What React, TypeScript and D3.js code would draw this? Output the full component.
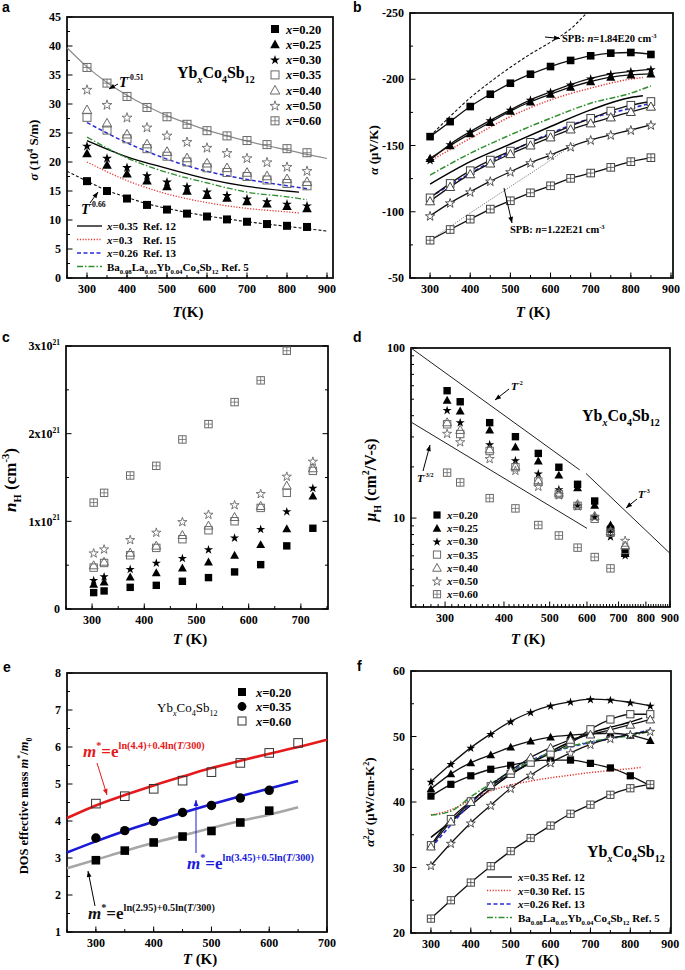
import React, { useEffect, useRef } from 'react';
import * as d3 from 'd3';

// ---------------- data ----------------
const X_LABELS = ['0.20', '0.25', '0.30', '0.35', '0.40', '0.50', '0.60'];
const MARKERS = ['sq', 'tri', 'star', 'osq', 'otri', 'ostar', 'xsq'];
const T50 = [300, 350, 400, 450, 500, 550, 600, 650, 700, 750, 800, 850];
const T_HALL = [303, 323, 373, 423, 473, 523, 573, 623, 673, 723];

// (a) electrical conductivity, 10^4 S/m
const SIG_020 = [16.7, 15.0, 13.7, 12.6, 11.8, 11.1, 10.6, 10.1, 9.7, 9.3, 9.0, 8.8];
const SIG_025 = [21.5, 19.5, 18.0, 16.8, 15.8, 15.0, 14.3, 13.8, 13.2, 12.8, 12.4, 12.0];
const SIG_030 = [22.8, 20.7, 19.1, 17.7, 16.6, 15.8, 14.9, 14.3, 13.7, 13.2, 12.8, 12.5];
const SIG_035 = [27.7, 25.5, 24.0, 22.3, 21.0, 20.0, 19.0, 18.2, 17.5, 16.9, 16.3, 15.9];
const SIG_040 = [29.0, 26.7, 24.8, 23.1, 21.8, 20.7, 19.8, 19.0, 18.2, 17.6, 17.1, 16.6];
const SIG_050 = [32.5, 29.9, 27.7, 26.0, 24.6, 23.5, 22.5, 21.6, 20.7, 20.0, 19.2, 18.5];
const SIG_060 = [36.3, 33.6, 31.3, 29.4, 27.8, 26.5, 25.4, 24.5, 23.7, 23.0, 22.3, 21.6];
const FIT_T = [250, 300, 350, 400, 450, 500, 550, 600, 650, 700, 750, 800, 850, 900];
const FIT_051 = [39.7, 36.4, 33.7, 31.5, 29.6, 28.0, 26.7, 25.5, 24.5, 23.6, 22.8, 22.1, 21.3, 20.6];
const FIT_066 = [18.4, 16.7, 15.1, 13.9, 12.8, 12.0, 11.3, 10.7, 10.2, 9.7, 9.3, 8.9, 8.5, 8.1];
const REF_T_SHORT = [300, 400, 500, 600, 700, 800, 830];
const REF_T_LONG = [300, 400, 500, 600, 700, 800, 850];
const SIG_REF12 = [23.7, 20.9, 18.9, 17.1, 15.8, 15.0, 14.8];
const SIG_REF15 = [20.0, 16.8, 14.5, 13.0, 12.0, 11.4, 11.2];
const SIG_REF13 = [26.8, 23.3, 20.5, 18.4, 17.0, 15.9, 15.4];
const SIG_REF5 = [24.3, 20.7, 18.2, 16.4, 14.8, 14.0, 13.5];

// (b) Seebeck coefficient, uV/K
const ALP_020 = [-156.7, -168, -179.4, -188.7, -197, -203.8, -209.6, -214.2, -217.7, -219.7, -220.2, -218.7];
const ALP_025 = [-140.3, -150, -159, -167.5, -176, -183, -188.7, -194, -198.3, -201.6, -203.3, -204];
const ALP_030 = [-139, -151, -160.5, -169, -177, -184.5, -190.5, -196, -200.6, -204, -206, -207.5];
const ALP_035 = [-110.5, -121.4, -131, -139, -145.8, -152.4, -158.4, -164.7, -170.5, -176, -180.4, -183.2];
const ALP_040 = [-108, -118.8, -128.4, -136.5, -143.6, -150.1, -156.2, -162.2, -166.8, -171.3, -175.4, -179.4];
const ALP_050 = [-96.9, -106.7, -115, -123.1, -130.2, -137, -142.8, -149.1, -154.2, -158, -161.7, -165.5];
const ALP_060 = [-78.5, -86.6, -94.4, -102, -108.3, -114.3, -119.6, -125.2, -129.2, -133.5, -137.8, -140.8];
const ALP_REF12 = [-120.9, -137.8, -151.1, -164.3, -176.9, -186.2, -187.5];
const ALP_REF15 = [-138.3, -155.4, -171.8, -184.4, -193.3, -200.1, -201.3];
const ALP_REF13 = [-111.3, -128.9, -145.3, -159.2, -170.5, -178.1, -181.9];
const ALP_REF5 = [-127.7, -144.1, -158, -170.6, -181.9, -189.5, -195];
const SPB1_T = [300, 350, 400, 450, 500, 550, 600, 650, 690];
const SPB1 = [-157, -172, -186, -198, -209, -219, -228, -238, -250];
const SPB2_T = [300, 400, 500, 600, 660];
const SPB2 = [-78.5, -99, -119, -139, -152];

// (c) Hall carrier concentration, 10^21 cm^-3
const N_020 = [0.187, 0.206, 0.247, 0.27, 0.316, 0.358, 0.423, 0.506, 0.72, 0.921];
const N_025 = [0.282, 0.308, 0.365, 0.415, 0.468, 0.537, 0.613, 0.735, 0.917, 1.29];
const N_030 = [0.331, 0.373, 0.457, 0.529, 0.582, 0.681, 0.815, 0.914, 1.115, 1.382];
const N_035 = [0.472, 0.525, 0.613, 0.697, 0.796, 0.898, 1.001, 1.153, 1.325, 1.576];
const N_040 = [0.499, 0.54, 0.643, 0.723, 0.845, 0.952, 1.05, 1.176, 1.408, 1.606];
const N_050 = [0.64, 0.685, 0.792, 0.876, 0.997, 1.081, 1.19, 1.317, 1.515, 1.686];
const N_060 = [1.214, 1.325, 1.523, 1.633, 1.934, 2.109, 2.36, 2.608, 2.946];

// (d) Hall mobility, cm^2/V-s
const MU_020 = [56.1, 48.3, 36.4, 30.1, 24.0, 19.9, 15.8, 12.6, 8.6, 6.3];
const MU_025 = [49.4, 42.6, 33.0, 26.2, 21.7, 17.9, 15.1, 11.9, 9.1, 6.2];
const MU_030 = [43.2, 36.6, 27.2, 21.9, 18.3, 14.8, 11.9, 10.2, 7.8, 6.05];
const MU_035 = [35.6, 31.2, 24.8, 19.9, 16.4, 13.8, 11.8, 9.9, 8.2, 6.5];
const MU_040 = [36.6, 33.0, 25.4, 20.2, 16.7, 14.1, 12.1, 10.3, 8.4, 6.9];
const MU_050 = [31.5, 28.1, 22.4, 19.1, 15.4, 13.7, 11.8, 10.2, 8.3, 7.4];
const MU_060 = [18.5, 16.2, 13.1, 11.4, 9.1, 7.9, 6.7, 5.9, 5.06];
const GUIDE_M2_T = [254, 579];
const GUIDE_M2 = [100, 19.2];
const GUIDE_M3_T = [597, 900];
const GUIDE_M3 = [18.3, 6.2];
const GUIDE_M32_T = [254, 600];
const GUIDE_M32 = [36.7, 8.7];

// (e) DOS effective mass
const E_T = [300, 350, 400, 450, 500, 550, 600];
const E_T60 = [300, 350, 400, 450, 500, 550, 600, 650];
const M_020 = [2.94, 3.2, 3.42, 3.58, 3.73, 3.96, 4.28];
const M_035 = [3.54, 3.74, 3.99, 4.23, 4.42, 4.62, 4.83];
const M_060 = [4.47, 4.67, 4.87, 5.09, 5.32, 5.57, 5.84, 6.11];
const EFIT_T_LONG = [250, 300, 350, 400, 450, 500, 550, 600, 650, 700];
const EFIT_T = [250, 300, 350, 400, 450, 500, 550, 600, 650];
const EFIT_RED = [4.08, 4.42, 4.7, 4.96, 5.2, 5.43, 5.63, 5.82, 6.0, 6.2];
const EFIT_BLUE = [3.15, 3.45, 3.73, 3.98, 4.22, 4.45, 4.67, 4.88, 5.08];
const EFIT_GRAY = [2.72, 2.95, 3.19, 3.41, 3.61, 3.81, 4.0, 4.17, 4.37];

// (f) power factor, uW/cm-K^2
const PF_020 = [40.9, 42.7, 44.0, 45.0, 45.6, 46.2, 46.4, 46.4, 45.9, 45.2, 44.0, 42.5];
const PF_025 = [42.0, 44.3, 46.0, 47.2, 48.4, 49.3, 49.9, 50.2, 50.4, 50.5, 50.2, 49.4];
const PF_030 = [43.1, 45.8, 48.3, 50.4, 52.3, 53.7, 54.7, 55.3, 55.7, 55.6, 55.2, 54.7];
const PF_035 = [33.4, 37.4, 40.1, 42.4, 44.3, 46.0, 47.4, 49.0, 51.1, 52.6, 53.4, 53.4];
const PF_040 = [33.2, 37.0, 40.0, 42.6, 44.8, 46.8, 48.3, 49.5, 50.3, 51.0, 51.8, 52.6];
const PF_050 = [30.3, 33.7, 36.8, 39.5, 42.1, 44.1, 46.0, 47.5, 48.8, 49.7, 50.3, 50.8];
const PF_060 = [22.2, 25.0, 27.7, 30.2, 32.5, 34.5, 36.4, 38.2, 39.6, 41.1, 42.1, 42.7];
const PF_REF_T = [300, 350, 400, 450, 500, 550, 600, 650, 700, 750, 800, 830];
const PF_REF12 = [34.6, 37.0, 39.5, 42.0, 44.2, 46.0, 47.7, 49.2, 50.5, 51.4, 52.2, 52.8];
const PF_REF15 = [38.0, 38.8, 40.3, 41.7, 42.6, 43.2, 43.7, 44.1, 44.5, 44.8, 45.1, 45.3];
const PF_REF13 = [33.0, 36.5, 39.8, 42.5, 44.6, 46.3, 47.5, 48.4, 49.1, 49.7, 50.3, 51.0];
const PF_REF5 = [38.0, 38.6, 40.8, 42.8, 44.6, 46.2, 47.5, 48.5, 49.2, 49.7, 50.1, 50.8];

// ---------------- helpers ----------------
const FONT = "'Liberation Serif','Times New Roman',serif";
const GRAY = '#6a6a6a';
const REF_STYLES = [
  { stroke: '#000', w: 1.3, dash: null as string | null },
  { stroke: '#e3342f', w: 1.3, dash: '1.2,1.6' },
  { stroke: '#2b2bd6', w: 1.5, dash: '4,2.5' },
  { stroke: '#2f8f2f', w: 1.3, dash: '6,2,1.5,2' },
];

type Seg = [string, string?];

function rich(g: any, x: number, y: number, segs: Seg[], size: number, o: any = {}) {
  const t = g.append('text').attr('x', x).attr('y', y)
    .attr('font-family', FONT).attr('font-size', size)
    .attr('font-weight', o.weight ?? 'bold').attr('fill', o.fill ?? '#000')
    .attr('text-anchor', o.anchor ?? 'start').style('white-space', 'pre');
  if (o.rotate) t.attr('transform', `rotate(${o.rotate},${x},${y})`);
  let cur = 0;
  const supF = o.supF ?? 0.62;
  for (const [s, f = ''] of segs) {
    let off = 0, sz = size;
    if (f.includes('sub')) { off = size * 0.3; sz = size * supF; }
    if (f.includes('sup')) { off = -size * (o.supUp ?? 0.42); sz = size * supF; }
    const ts = t.append('tspan').attr('dy', off - cur).attr('font-size', sz).text(s);
    if (f.includes('i')) ts.attr('font-style', 'italic');
    cur = off;
  }
  return t;
}

function mk(g: any, type: string, cx: number, cy: number, s: number, color: string, fill = 'none') {
  if (type === 'sq' || type === 'osq' || type === 'xsq') {
    const r = g.append('rect').attr('x', cx - s).attr('y', cy - s).attr('width', 2 * s).attr('height', 2 * s);
    if (type === 'sq') r.attr('fill', color);
    else r.attr('fill', fill).attr('stroke', color).attr('stroke-width', 1);
    if (type === 'xsq') g.append('path').attr('d', `M${cx - s},${cy}H${cx + s}M${cx},${cy - s}V${cy + s}`)
      .attr('stroke', color).attr('stroke-width', 0.8);
  } else if (type === 'tri' || type === 'otri') {
    const h = s * 1.2;
    const p = g.append('path').attr('d', `M${cx},${cy - h}L${cx + h},${cy + h * 0.8}L${cx - h},${cy + h * 0.8}Z`);
    if (type === 'tri') p.attr('fill', color);
    else p.attr('fill', fill).attr('stroke', color).attr('stroke-width', 1);
  } else if (type === 'star' || type === 'ostar') {
    const d = d3.symbol().type(d3.symbolStar).size(s * s * 1.9)();
    const p = g.append('path').attr('d', d).attr('transform', `translate(${cx},${cy + 0.5})`);
    if (type === 'star') p.attr('fill', color);
    else p.attr('fill', fill).attr('stroke', color).attr('stroke-width', 0.9);
  } else if (type === 'circ') {
    g.append('circle').attr('cx', cx).attr('cy', cy).attr('r', s * 1.1).attr('fill', color);
  }
}

function ln(g: any, x: any, y: any, xs: number[], ys: number[], stroke: string, w: number, dash: string | null = null) {
  const pts = xs.map((v, i) => [x(v), y(ys[i])] as [number, number]);
  g.append('path').attr('d', d3.line().curve(d3.curveMonotoneX)(pts)).attr('fill', 'none')
    .attr('stroke', stroke).attr('stroke-width', w).attr('stroke-dasharray', dash);
}

function arrow(g: any, x1: number, y1: number, x2: number, y2: number, color = '#000', w = 1) {
  g.append('line').attr('x1', x1).attr('y1', y1).attr('x2', x2).attr('y2', y2).attr('stroke', color).attr('stroke-width', w);
  const a = Math.atan2(y2 - y1, x2 - x1), L = 6, W = 2.4;
  const c = Math.cos(a), s = Math.sin(a);
  g.append('path').attr('d', `M${x2},${y2}L${x2 - L * c + W * s},${y2 - L * s - W * c}L${x2 - L * c - W * s},${y2 - L * s + W * c}Z`).attr('fill', color);
}

function axes(g: any, x: any, y: any, o: any) {
  const [x0, x1] = x.range();
  const yr = y.range();
  const y0 = Math.min(yr[0], yr[1]);
  const y1 = Math.max(yr[0], yr[1]);
  const tick = (a: number, b: number, c: number, d: number) =>
    g.append('line').attr('x1', a).attr('y1', b).attr('x2', c).attr('y2', d).attr('stroke', '#000').attr('stroke-width', 1);
  for (const v of o.xMin) tick(x(v), y1, x(v), y1 - 3);
  for (const v of o.xMaj) {
    tick(x(v), y1, x(v), y1 - 5.5);
    rich(g, x(v), y1 + 15, [[String(v)]], 12, { anchor: 'middle' });
  }
  for (const v of o.yMin) { tick(x0, y(v), x0 + 3, y(v)); if (o.mirror) tick(x1, y(v), x1 - 3, y(v)); }
  for (const v of o.yMaj) {
    tick(x0, y(v), x0 + 5.5, y(v));
    if (o.mirror) tick(x1, y(v), x1 - 5.5, y(v));
    if (o.yLab) { const segs = o.yLab(v); if (segs) rich(g, x0 - 6, y(v) + 4.2, segs, 12, { anchor: 'end' }); }
  }
  g.append('rect').attr('x', x0).attr('y', y0).attr('width', x1 - x0).attr('height', y1 - y0)
    .attr('fill', 'none').attr('stroke', '#000').attr('stroke-width', 1.7);
}

function panelLetter(g: any, x: number, y: number, s: string) {
  g.append('text').attr('x', x).attr('y', y).attr('font-family', 'Arial, Liberation Sans, sans-serif')
    .attr('font-weight', 'bold').attr('font-size', 14).text(s);
}

const YBCOSB: Seg[] = [['Yb'], ['x', 'sub i'], ['Co'], ['4', 'sub'], ['Sb'], ['12', 'sub']];
const BALA: Seg[] = [['Ba'], ['0.08', 'sub'], ['La'], ['0.05', 'sub'], ['Yb'], ['0.04', 'sub'], ['Co'], ['4', 'sub'], ['Sb'], ['12', 'sub'], [' Ref. 5']];

// ---------------- panels ----------------
function panelA(g: any) {
  const x = d3.scaleLinear([250, 915], [67, 333]);
  const y = d3.scaleLinear([0, 45], [278, 17]);
  axes(g, x, y, {
    xMaj: d3.range(300, 901, 100), xMin: d3.range(250, 901, 50),
    yMaj: d3.range(0, 46, 5), yMin: d3.range(2.5, 45, 5), yLab: (v: number) => [[String(v)]],
  });
  ln(g, x, y, FIT_T, FIT_051, '#8c8c8c', 1.2);
  ln(g, x, y, FIT_T, FIT_066, '#111', 1.1, '3,2');
  const refs: [number[], number[]][] = [[REF_T_SHORT, SIG_REF12], [REF_T_SHORT, SIG_REF15], [REF_T_LONG, SIG_REF13], [REF_T_LONG, SIG_REF5]];
  refs.forEach(([t, v], i) => ln(g, x, y, t, v, REF_STYLES[i].stroke, REF_STYLES[i].w, REF_STYLES[i].dash));
  const series = [SIG_020, SIG_025, SIG_030, SIG_035, SIG_040, SIG_050, SIG_060];
  series.forEach((vals, i) => vals.forEach((v, j) => mk(g, MARKERS[i], x(T50[j]), y(v), 4, i < 3 ? '#000' : GRAY)));
  // legend
  X_LABELS.forEach((lab, i) => {
    const cy = 29 + i * 15.3;
    mk(g, MARKERS[i], 275, cy, 4, i < 3 ? '#000' : GRAY);
    rich(g, 286, cy + 4.5, [['x', 'i'], ['=' + lab]], 12.5);
  });
  const legY = [226, 239.5, 253, 266.5];
  legY.forEach((ly, i) => {
    g.append('line').attr('x1', 77).attr('x2', 102).attr('y1', ly).attr('y2', ly)
      .attr('stroke', REF_STYLES[i].stroke).attr('stroke-width', REF_STYLES[i].w).attr('stroke-dasharray', REF_STYLES[i].dash);
  });
  rich(g, 107, 230, [['x', 'i'], ['=0.35']], 11); rich(g, 143, 230, [['Ref. 12']], 11);
  rich(g, 107, 243.5, [['x', 'i'], ['=0.3']], 11); rich(g, 143, 243.5, [['Ref. 15']], 11);
  rich(g, 107, 257, [['x', 'i'], ['=0.26']], 11); rich(g, 143, 257, [['Ref. 13']], 11);
  rich(g, 107, 270.5, BALA, 11);
  rich(g, 177, 78, YBCOSB, 16);
  rich(g, 119, 87, [['T', 'i'], ['-0.51', 'sup']], 14, { supF: 0.55, supUp: 0.5 });
  arrow(g, 118, 84, 109, 89);
  rich(g, 81, 214, [['T', 'i'], ['-0.66', 'sup']], 14, { supF: 0.55, supUp: 0.5 });
  arrow(g, 90, 203, 98, 192);
  rich(g, 38, 150, [['σ', 'i'], [' (10'], ['4', 'sup'], [' S/m)']], 13, { anchor: 'middle', rotate: -90 });
  rich(g, 188, 317, [['T', 'i'], ['(K)']], 15, { anchor: 'middle' });
  panelLetter(g, 2, 12, 'a');
}

function panelB(g: any) {
  const x = d3.scaleLinear([250, 905], [410, 673]);
  const y = d3.scaleLinear([-250, -50], [13, 278]);
  axes(g, x, y, {
    xMaj: d3.range(300, 901, 100), xMin: d3.range(250, 901, 50),
    yMaj: d3.range(-250, -49, 50), yMin: d3.range(-225, -50, 50), yLab: (v: number) => [[String(v)]],
  });
  const refs: [number[], number[]][] = [[REF_T_SHORT, ALP_REF12], [REF_T_SHORT, ALP_REF15], [REF_T_LONG, ALP_REF13], [REF_T_LONG, ALP_REF5]];
  ln(g, x, y, SPB1_T, SPB1, '#111', 1.1, '3,2');
  ln(g, x, y, SPB2_T, SPB2, '#777', 1, '1.2,1.3');
  refs.forEach(([t, v], i) => ln(g, x, y, t, v, REF_STYLES[i].stroke, REF_STYLES[i].w + 0.2, REF_STYLES[i].dash));
  const series = [ALP_020, ALP_025, ALP_030, ALP_035, ALP_040, ALP_050, ALP_060];
  series.forEach((vals) => ln(g, x, y, T50, vals, '#111', 1.3));
  series.forEach((vals, i) => vals.forEach((v, j) => mk(g, MARKERS[i], x(T50[j]), y(v), 3.8, i < 3 ? '#000' : '#444', 'white')));
  rich(g, 562, 42, [['SPB: '], ['n', 'i'], ['=1.84E20 cm'], ['-3', 'sup']], 10.5);
  arrow(g, 545, 37, 560, 38.5);
  rich(g, 510, 233, [['SPB: '], ['n', 'i'], ['=1.22E21 cm'], ['-3', 'sup']], 10.5);
  arrow(g, 504, 188, 512, 223);
  rich(g, 378, 150, [['α', 'i'], [' (μV/K)']], 13, { anchor: 'middle', rotate: -90 });
  rich(g, 533, 317, [['T', 'i'], [' (K)']], 15, { anchor: 'middle' });
  panelLetter(g, 353, 12, 'b');
}

function panelC(g: any) {
  const x = d3.scaleLinear([250, 752], [66, 328]);
  const y = d3.scaleLinear([0, 3], [609, 346]);
  axes(g, x, y, {
    xMaj: d3.range(300, 701, 100), xMin: d3.range(250, 751, 50),
    yMaj: [0, 1, 2, 3], yMin: [0.5, 1.5, 2.5], mirror: true,
    yLab: (v: number) => (v === 0 ? [['0']] : [[`${v}x10`], ['21', 'sup']]),
  });
  const series = [N_020, N_025, N_030, N_035, N_040, N_050, N_060];
  series.forEach((vals, i) => vals.forEach((v, j) => mk(g, MARKERS[i], x(T_HALL[j]), y(v), 3.7, i < 3 ? '#000' : GRAY)));
  rich(g, 16, 480, [['n', 'i'], ['H', 'sub'], [' (cm'], ['-3', 'sup'], [')']], 17, { anchor: 'middle', rotate: -90 });
  rich(g, 190, 644, [['T', 'i'], [' (K)']], 15, { anchor: 'middle' });
  panelLetter(g, 2, 342, 'c');
}

function panelD(g: any) {
  const x = d3.scaleLog([254, 900], [411, 670]);
  const y = d3.scaleLog([3, 100], [607, 348]);
  const xMin = d3.range(260, 900, 10).filter((v) => v % 100 !== 0);
  axes(g, x, y, {
    xMaj: d3.range(300, 901, 100), xMin,
    yMaj: [10, 100], yMin: [3, 4, 5, 6, 7, 8, 9, 20, 30, 40, 50, 60, 70, 80, 90],
    yLab: (v: number) => [[String(v)]],
  });
  ln(g, x, y, GUIDE_M2_T, GUIDE_M2, '#222', 1);
  ln(g, x, y, GUIDE_M3_T, GUIDE_M3, '#222', 1);
  ln(g, x, y, GUIDE_M32_T, GUIDE_M32, '#222', 1);
  const series = [MU_020, MU_025, MU_030, MU_035, MU_040, MU_050, MU_060];
  series.forEach((vals, i) => vals.forEach((v, j) => mk(g, MARKERS[i], x(T_HALL[j]), y(v), 3.7, i < 3 ? '#000' : GRAY)));
  X_LABELS.forEach((lab, i) => {
    const cy = 515 + i * 13.2;
    mk(g, MARKERS[i], 437, cy, 3.6, i < 3 ? '#000' : GRAY);
    rich(g, 447, cy + 4, [['x', 'i'], ['=' + lab]], 11);
  });
  rich(g, 582, 421, YBCOSB, 16);
  rich(g, 511, 390, [['T', 'i'], ['-2', 'sup']], 11, { supF: 0.55, supUp: 0.5 });
  arrow(g, 509, 389, 495, 400);
  rich(g, 638, 498, [['T', 'i'], ['-3', 'sup']], 11, { supF: 0.55, supUp: 0.5 });
  arrow(g, 637, 499, 626, 508);
  rich(g, 417, 482, [['T', 'i'], ['-3/2', 'sup']], 11, { supF: 0.55, supUp: 0.5 });
  arrow(g, 423, 471, 430, 445);
  rich(g, 376, 480, [['μ', 'i'], ['H', 'sub'], [' (cm'], ['2', 'sup'], ['/V-s)']], 16, { anchor: 'middle', rotate: -90 });
  rich(g, 528, 644, [['T', 'i'], [' (K)']], 15, { anchor: 'middle' });
  panelLetter(g, 353, 342, 'd');
}

function panelE(g: any) {
  const x = d3.scaleLinear([250, 700], [67, 327]);
  const y = d3.scaleLinear([1, 8], [932, 673]);
  axes(g, x, y, {
    xMaj: d3.range(300, 701, 100), xMin: d3.range(250, 701, 50),
    yMaj: d3.range(1, 9, 1), yMin: d3.range(1.5, 8, 1), yLab: (v: number) => [[String(v)]],
  });
  ln(g, x, y, EFIT_T_LONG, EFIT_RED, '#e41a1c', 2.6);
  ln(g, x, y, EFIT_T, EFIT_BLUE, '#1a1ad8', 2.6);
  ln(g, x, y, EFIT_T, EFIT_GRAY, '#a6a6a6', 2.6);
  M_020.forEach((v, j) => mk(g, 'sq', x(E_T[j]), y(v), 4.3, '#000'));
  M_035.forEach((v, j) => mk(g, 'circ', x(E_T[j]), y(v), 4.3, '#000'));
  M_060.forEach((v, j) => mk(g, 'osq', x(E_T60[j]), y(v), 4.3, '#333'));
  const leg = [['sq', '0.20'], ['circ', '0.35'], ['osq', '0.60']];
  leg.forEach(([t, lab], i) => {
    const cy = 692 + i * 14.5;
    mk(g, t, 242, cy, 4, t === 'osq' ? '#333' : '#000');
    rich(g, 256, cy + 4.5, [['x', 'i'], ['=' + lab]], 12.5);
  });
  rich(g, 157, 712, YBCOSB, 13, { weight: 'normal' });
  const f = (a: string, b: string): Seg[] => [['m', 'i'], ['*', 'sup'], ['=e'], [`ln(${a})+${b}ln(`, 'sup'], ['T', 'sup i'], ['/300)', 'sup']];
  rich(g, 83, 757, f('4.4', '0.4'), 17, { fill: '#e41a1c', supF: 0.6, supUp: 0.45 });
  arrow(g, 97, 763, 107, 795, '#e41a1c');
  rich(g, 187, 869, f('3.45', '0.5'), 17, { fill: '#1a1ad8', supF: 0.6, supUp: 0.45 });
  arrow(g, 196, 853, 196, 800, '#1a1ad8');
  rich(g, 88, 919, f('2.95', '0.5'), 17, { fill: '#111', supF: 0.6, supUp: 0.45 });
  arrow(g, 95, 906, 88, 871);
  rich(g, 28, 806, [['DOS effective mass '], ['m', 'i'], ['*', 'sup'], ['/'], ['m', 'i'], ['0', 'sub']], 12.5, { anchor: 'middle', rotate: -90 });
  rich(g, 200, 964, [['T', 'i'], [' (K)']], 15, { anchor: 'middle' });
  panelLetter(g, 3, 672, 'e');
}

function panelF(g: any) {
  const x = d3.scaleLinear([250, 902], [411, 671]);
  const y = d3.scaleLinear([20, 60], [933, 671]);
  axes(g, x, y, {
    xMaj: d3.range(300, 901, 100), xMin: d3.range(250, 901, 50),
    yMaj: d3.range(20, 61, 10), yMin: d3.range(25, 60, 10), yLab: (v: number) => [[String(v)]],
  });
  const refs: [number[], number[]][] = [[PF_REF_T, PF_REF12], [PF_REF_T, PF_REF15], [T50, PF_REF13], [T50, PF_REF5]];
  refs.forEach(([t, v], i) => ln(g, x, y, t, v, REF_STYLES[i].stroke, REF_STYLES[i].w + 0.2, REF_STYLES[i].dash));
  const series = [PF_020, PF_025, PF_030, PF_035, PF_040, PF_050, PF_060];
  series.forEach((vals) => ln(g, x, y, T50, vals, '#111', 1.3));
  series.forEach((vals, i) => vals.forEach((v, j) => mk(g, MARKERS[i], x(T50[j]), y(v), 3.6, i < 3 ? '#000' : '#444', 'white')));
  const legY = [877, 890.5, 904, 917.5];
  legY.forEach((ly, i) => {
    g.append('line').attr('x1', 487).attr('x2', 512).attr('y1', ly).attr('y2', ly)
      .attr('stroke', REF_STYLES[i].stroke).attr('stroke-width', REF_STYLES[i].w).attr('stroke-dasharray', REF_STYLES[i].dash);
  });
  rich(g, 518, 881, [['x', 'i'], ['=0.35 Ref. 12']], 11);
  rich(g, 518, 894.5, [['x', 'i'], ['=0.30 Ref. 15']], 11);
  rich(g, 518, 908, [['x', 'i'], ['=0.26 Ref. 13']], 11);
  rich(g, 518, 921.5, BALA, 11);
  rich(g, 587, 857, YBCOSB, 16);
  rich(g, 374, 802, [['α', 'i'], ['2', 'sup'], ['σ', 'i'], [' (μW/cm-K'], ['2', 'sup'], [')']], 13, { anchor: 'middle', rotate: -90 });
  rich(g, 542, 965, [['T', 'i'], [' (K)']], 15, { anchor: 'middle' });
  panelLetter(g, 357, 671, 'f');
}

export default function App() {
  const ref = useRef<SVGSVGElement>(null);
  useEffect(() => {
    const svg = d3.select(ref.current);
    svg.selectAll('*').remove();
    svg.append('rect').attr('width', 685).attr('height', 970).attr('fill', '#fff');
    panelA(svg.append('g'));
    panelB(svg.append('g'));
    panelC(svg.append('g'));
    panelD(svg.append('g'));
    panelE(svg.append('g'));
    panelF(svg.append('g'));
  }, []);
  return (
    <svg ref={ref} width={685} height={970}
      style={{ position: 'absolute', left: 0, top: 0, background: '#fff' }} />
  );
}
